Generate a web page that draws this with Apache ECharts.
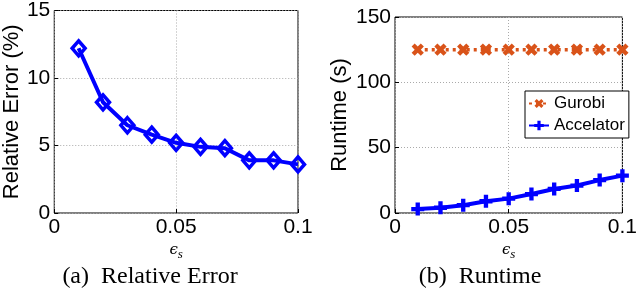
<!DOCTYPE html>
<html><head><meta charset="utf-8">
<script src="https://cdn.jsdelivr.net/npm/echarts@6/dist/echarts.min.js"></script>
<style>html,body{margin:0;padding:0;background:#fff}#c{width:640px;height:288px}</style>
</head><body><div id="c"></div>
<script>
const eps = [0.01,0.02,0.03,0.04,0.05,0.06,0.07,0.08,0.09,0.10];
const relErr = [12.2,8.2,6.5,5.8,5.2,4.9,4.8,3.9,3.9,3.6];
const gurobi = [125,125,125,125,125,125,125,125,125,125];
const accel = [3,4,6,9,11,14.5,18.4,21,25.2,28.6];
const xTicks = [0,0.05,0.1];
const captions = ['(a)  Relative Error','(b)  Runtime'];
const seriesNames = ['Gurobi','Accelator'];

const SANS = 'Liberation Sans, Arial, Helvetica, sans-serif';
const SERIF = 'Liberation Serif, Times New Roman, serif';
const plus = 'path://M4,0H8V4H12V8H8V12H4V8H0V4H4Z';
const pair = (xs, ys) => xs.map((x,i)=>[x, ys[i]]);

function xAx(gi){
  return {gridIndex:gi,type:'value',min:0,max:0.1,interval:0.05,
    name:'{e|ϵ}{s|s}',nameLocation:'middle',nameGap:25,
    nameTextStyle:{rich:{e:{fontFamily:'DejaVu Serif, serif',fontStyle:'italic',fontSize:15,color:'#000'},
      s:{fontFamily:SERIF,fontStyle:'italic',fontSize:13,color:'#000',padding:[8,0,0,0]}}},
    axisLine:{show:false},axisTick:{inside:true,length:4,lineStyle:{color:'#000'}},
    axisLabel:{color:'#000',fontFamily:SANS,fontSize:21,margin:4,
      formatter:v=>xTicks.includes(+v.toFixed(3))?String(+v.toFixed(3)):''},
    splitLine:{show:true,lineStyle:{color:'#aaa',type:[1,2]}}};
}
function yAx(gi,max,intv,name,gap){
  return {gridIndex:gi,type:'value',min:0,max:max,interval:intv,
    name:name,nameLocation:'middle',nameGap:gap,
    nameTextStyle:{color:'#000',fontFamily:SANS,fontSize:22},
    axisLine:{show:false},axisTick:{inside:true,length:4,lineStyle:{color:'#000'}},
    axisLabel:{color:'#000',fontFamily:SANS,fontSize:21,margin:4},
    splitLine:{show:true,lineStyle:{color:'#aaa',type:[1,2]}}};
}

const chart = echarts.init(document.getElementById('c'),null,{renderer:'canvas'});
chart.setOption({
  animation:false,
  grid:[
    {left:48,top:6,width:250,height:207,show:true,borderColor:'#000',borderWidth:1,backgroundColor:'#fff'},
    {left:395,top:17,width:233,height:196,show:true,borderColor:'#000',borderWidth:1,backgroundColor:'#fff'}
  ],
  xAxis:[xAx(0),xAx(1)],
  yAxis:[yAx(0,15,5,'Relative Error (%)',26),yAx(1,150,50,'Runtime (s)',44)],
  legend:{orient:'vertical',left:525,top:91,data:seriesNames,
    backgroundColor:'#fff',borderColor:'#000',borderWidth:1,padding:[4,4,4,3],
    itemWidth:20,itemHeight:12,itemGap:5,itemTextGap:2,
    textStyle:{color:'#000',fontFamily:SANS,fontSize:17}},
  series:[
    {type:'line',xAxisIndex:0,yAxisIndex:0,data:pair(eps,relErr),
      symbol:'diamond',symbolSize:[13,15],
      lineStyle:{color:'#0000ff',width:4},
      itemStyle:{color:'rgba(255,255,255,0)',borderColor:'#0000ff',borderWidth:3.5}},
    {name:'Gurobi',type:'line',xAxisIndex:1,yAxisIndex:1,data:pair(eps,gurobi),
      symbol:plus,symbolRotate:45,symbolSize:13,
      lineStyle:{color:'#D95319',width:3.5,type:[3,4]},
      itemStyle:{color:'#D95319'}},
    {name:'Accelator',type:'line',xAxisIndex:1,yAxisIndex:1,data:pair(eps,accel),
      symbol:plus,symbolSize:13,
      lineStyle:{color:'#0000ff',width:4},
      itemStyle:{color:'#0000ff'}}
  ],
  graphic:[
    {type:'text',style:{text:captions[0],x:150,y:277,textAlign:'center',textVerticalAlign:'middle',
      font:'24px '+SERIF,fill:'#000'}},
    {type:'text',style:{text:captions[1],x:480,y:277,textAlign:'center',textVerticalAlign:'middle',
      font:'24px '+SERIF,fill:'#000'}}
  ]
});
</script></body></html>
